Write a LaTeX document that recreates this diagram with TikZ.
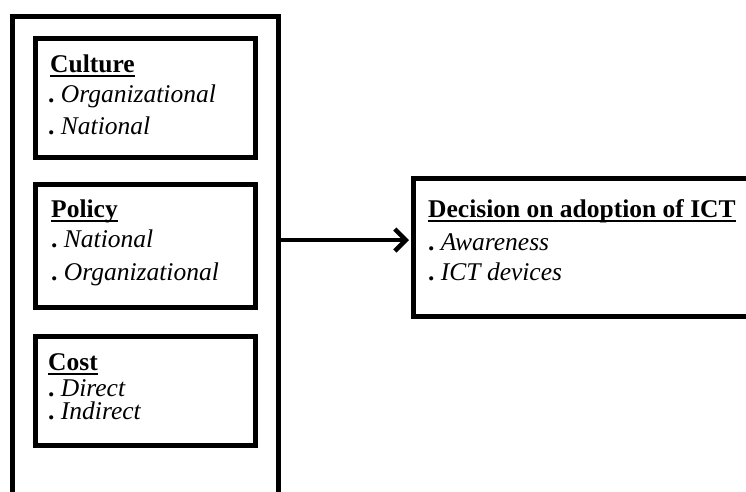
\documentclass[tikz,border=0pt]{standalone}
\usepackage{fontspec}
\setmainfont{Liberation Serif}[
  UprightFont={Liberation Serif},
  BoldFont={Liberation Serif Bold},
  ItalicFont={Liberation Serif Italic},
  BoldItalicFont={Liberation Serif Bold Italic}]
\usetikzlibrary{arrows.meta}
\newcommand\myul[1]{\setbox0\hbox{#1}\rlap{\rule[-4.5pt]{\wd0}{1.8pt}}\box0}
\newcommand\bul{\textbf{.}\ }
\tikzset{
  frame/.style={draw, line width=5pt, inner sep=0pt, anchor=north west},
  head/.style={anchor=base west, inner sep=0pt, font=\fontsize{25.5}{30}\selectfont\bfseries},
  item/.style={anchor=base west, inner sep=0pt, font=\fontsize{25.5}{30}\selectfont},
  conn/.style={line width=4pt, -{Straight Barb[length=11pt,width=22pt,line width=4.5pt]}}
}
\begin{document}
\begin{tikzpicture}[x=1pt,y=-1pt]
\useasboundingbox (0,0) rectangle (746,491);
\clip (0,0) rectangle (746,491);
% outer frame
\node[frame, line width=4.5pt, minimum width=266pt, minimum height=520pt] (outer) at (10,14) {};
% inner boxes
\node[frame, minimum width=220pt, minimum height=119pt] (culture) at (32.5,35.5) {};
\node[frame, minimum width=220pt, minimum height=123pt] (policy) at (32.5,181.5) {};
\node[frame, minimum width=220pt, minimum height=109pt] (cost) at (32.5,334) {};
\node[frame, minimum width=360pt, minimum height=138pt] (decision) at (411,175.5) {};
% texts
\node[head] (culh) at (50,72) {\myul{Culture}};
\node[item] (cul1) at (48,102) {\bul\textit{Organizational}};
\node[item] (cul2) at (48,134) {\bul\textit{National}};
\node[head] (polh) at (51,217) {\myul{Policy}};
\node[item] (pol1) at (51,247) {\bul\textit{National}};
\node[item] (pol2) at (51,280) {\bul\textit{Organizational}};
\node[head] (cosh) at (48,370) {\myul{Cost}};
\node[item] (cos1) at (48,396) {\bul\textit{Direct}};
\node[item] (cos2) at (48,419) {\bul\textit{Indirect}};
\node[head] (dech) at (428,217) {\myul{Decision on adoption of ICT}};
\node[item] (dec1) at (428,250) {\bul\textit{Awareness}};
\node[item] (dec2) at (428,280) {\bul\textit{ICT devices}};
% connector
\draw[conn] (outer.east |- 0,240) -- ([xshift=-2pt]decision.west |- 0,240);
\end{tikzpicture}
\end{document}
